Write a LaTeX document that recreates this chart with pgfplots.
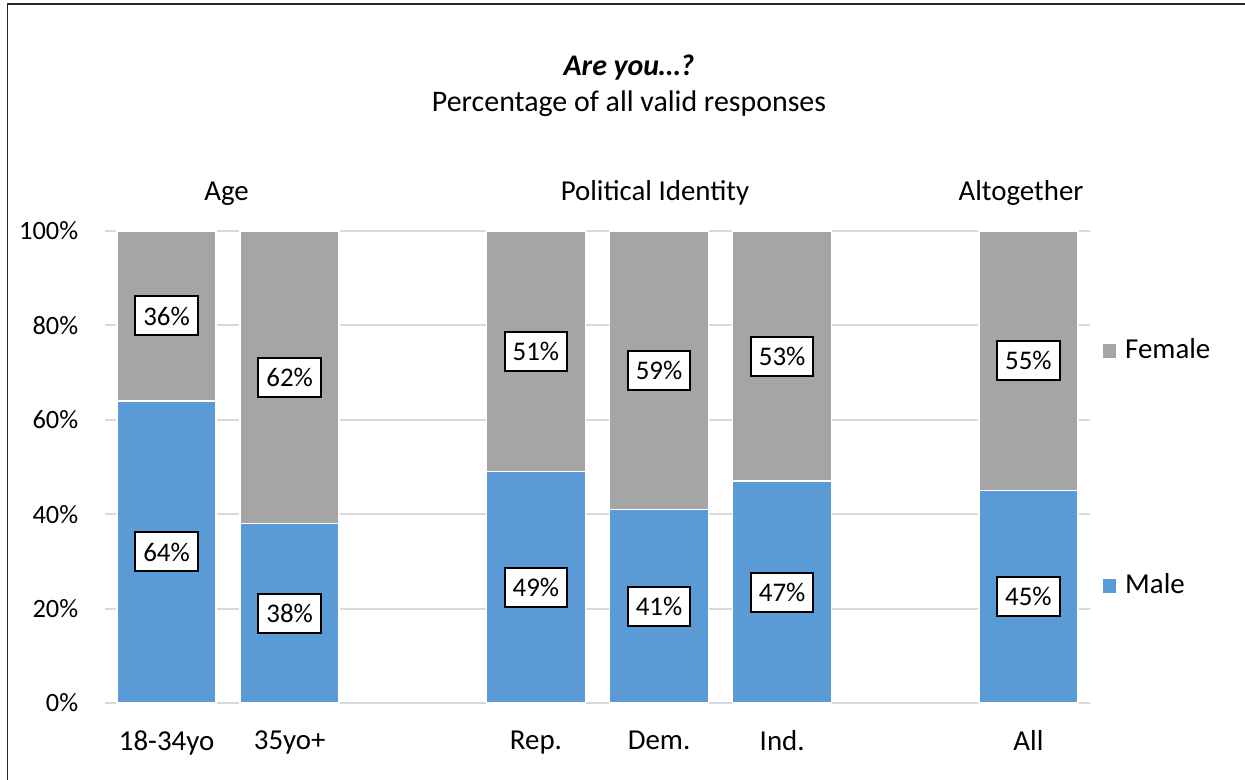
\documentclass[border=0pt]{standalone}
\usepackage{pgfplots}
\pgfplotsset{compat=1.18}
\usepackage{pgfplotstable}
\usepackage{fontspec}
\setmainfont{Carlito}
\definecolor{male}{HTML}{5B9BD5}
\definecolor{female}{HTML}{A5A5A5}
\definecolor{gridc}{HTML}{D9D9D9}
\pgfplotstableread{
x male female
0 64 36
1 38 62
3 49 51
4 41 59
5 47 53
7 45 55
}\data
\begin{document}
\fontsize{29}{35}\selectfont
\begin{tikzpicture}
\useasboundingbox (0,0) rectangle (1245bp,780bp);
\draw[line width=1.5bp, black!85] (7.5bp,0) -- (7.5bp,776bp) -- (1245bp,776bp);
\begin{axis}[
  at={(105bp,77bp)}, anchor=south west, scale only axis,
  width=985bp, height=472bp,
  xmin=-0.5, xmax=7.5, ymin=0, ymax=100,
  clip=false,
  axis line style={draw=none},
  major tick length=0pt,
  ytick={0,20,40,60,80,100},
  yticklabels={0\%,20\%,40\%,60\%,80\%,100\%},
  xtick={0,1,3,4,5,7},
  xticklabels={18-34yo,35yo+,Rep.,Dem.,Ind.,All},
  ymajorgrids, grid style={gridc, line width=2bp},
  yticklabel style={font=\fontsize{26.5}{30}\selectfont, xshift=-17bp},
  xticklabel style={yshift=-18bp},
  /pgf/number format/assume math mode=true,
  every node near coord/.style={font=\fontsize{27}{30}\selectfont, anchor=center, draw=black, fill=white, line width=2bp, inner xsep=8bp, inner ysep=0pt, minimum height=39bp, text=black},
]
\addplot[ybar, bar shift=0pt, bar width=99bp, fill=female, draw=white, line width=1.5bp] table[x=x, y expr=\thisrow{male}+\thisrow{female}] {\data};
\addplot[ybar, bar shift=0pt, bar width=99bp, fill=male, draw=white, line width=1.5bp] table[x=x, y=male] {\data};
\addplot[draw=none, nodes near coords={\pgfmathprintnumber{\pgfplotspointmeta}\%}, point meta=explicit] table[x=x, y expr=\thisrow{male}/2, meta=male] {\data};
\addplot[draw=none, nodes near coords={\pgfmathprintnumber{\pgfplotspointmeta}\%}, point meta=explicit] table[x=x, y expr=\thisrow{male}+\thisrow{female}/2, meta=female] {\data};
\end{axis}
\node[anchor=base] at (226.5bp,579bp) {Age};
\node[anchor=base] at (655bp,579bp) {Political Identity};
\node[anchor=base] at (1021bp,579bp) {Altogether};
\node[anchor=base, font=\fontsize{30}{36}\selectfont] at (629bp,704.5bp) {\textbf{\textit{Are you…?}}};
\node[anchor=base, font=\fontsize{30}{36}\selectfont] at (629bp,668.5bp) {Percentage of all valid responses};
\node[fill=female, minimum size=13.5bp, inner sep=0pt] at (1109.5bp,429bp) {};
\node[fill=male, minimum size=13.5bp, inner sep=0pt] at (1109.5bp,194bp) {};
\node[anchor=base west, inner sep=0pt] at (1125bp,421bp) {Female};
\node[anchor=base west, inner sep=0pt] at (1125bp,186bp) {Male};
\end{tikzpicture}
\end{document}
